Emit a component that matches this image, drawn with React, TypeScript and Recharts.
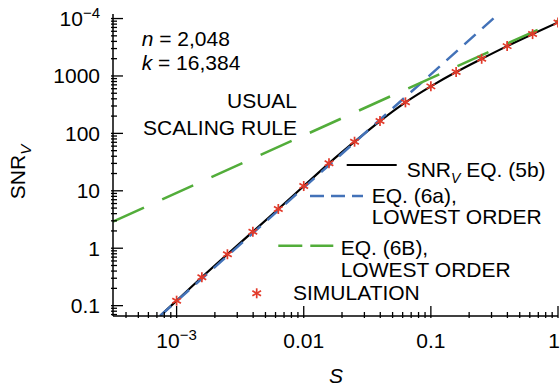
import React from 'react'
import { ComposedChart, Legend, Line, Scatter, XAxis, YAxis } from 'recharts'

const FONT = '"Liberation Sans", Arial, Helvetica, sans-serif'
const W = 560
const H = 388
const FS = 21
const RED = '#e23a2a'
const BLUE = '#4372b8'
const GREEN = '#52ad3a'

// simulation runs, 5 per decade of S
const simS = [0.001, 0.00158, 0.00251, 0.00398, 0.00631, 0.01, 0.0158, 0.0251, 0.0398, 0.0631, 0.1, 0.158, 0.251, 0.398, 0.631, 1]
const simSNR = [0.122, 0.312, 0.785, 1.94, 4.82, 12.1, 30.1, 71.6, 164, 347, 659, 1170, 1990, 3310, 5360, 8570]

// SNR_V eq. (5b)
const eq5bS = [0.00075, 0.001, 0.00158, 0.00251, 0.00398, 0.00631, 0.01, 0.0158, 0.0251, 0.0398, 0.0631, 0.1, 0.158, 0.251, 0.398, 0.631, 1]
const eq5bSNR = [0.068, 0.122, 0.312, 0.785, 1.94, 4.82, 12.1, 30.1, 71.6, 164, 347, 659, 1170, 1990, 3310, 5360, 8570]

// eq. (6a), lowest order
const eq6aS = [0.00074, 0.34]
const eq6aSNR = [0.066, 12000]

// eq. (6b), lowest order (usual scaling rule)
const eq6bS = [0.000316, 1]
const eq6bSNR = [2.9, 9200]

const xDomain = [0.000316, 1]
const yDomain = [0.066, 12000]

const xMajor = [0.001, 0.01, 0.1, 1]
const xLabelBase = ['10', '0.01', '0.1', '1']
const xLabelSup = ['\u22123', '', '', '']

const yMajor = [0.1, 1, 10, 100, 1000, 10000]
const yLabelBase = ['0.1', '1', '10', '100', '1000', '10']
const yLabelSup = ['', '', '', '', '', '\u22124']

const toPts = (s: number[], v: number[]) => s.map((x, i) => ({ s: x, v: v[i] }))

const minorTicks = (lo: number, hi: number) => {
	const out: number[] = []
	for (let e = Math.floor(Math.log10(lo)); e <= Math.ceil(Math.log10(hi)); e++) {
		for (let m = 2; m <= 9; m++) {
			const v = m * Math.pow(10, e)
			if (v >= lo && v <= hi) out.push(v)
		}
	}
	return out
}

const xTicks = [...xMajor, ...minorTicks(xDomain[0], xDomain[1])].sort((a, b) => a - b)
const yTicks = [...yMajor, ...minorTicks(yDomain[0], yDomain[1])].sort((a, b) => a - b)

const MAJOR = 12
const MINOR = 6

const majorIndex = (list: number[], v: number) =>
	list.findIndex((m) => Math.abs(Math.log10(m) - Math.log10(v)) < 1e-6)

const BottomTick = (props: any) => {
	const { x, y, payload } = props
	const i = majorIndex(xMajor, payload.value)
	const len = i >= 0 ? MAJOR : MINOR
	const last = i === xMajor.length - 1
	return (
		<g>
			<line x1={x} y1={y} x2={x} y2={y - len} stroke='#000' strokeWidth={1.3} />
			{i >= 0 && (
				<text
					x={last ? W : x}
					y={y + 30}
					textAnchor={last ? 'end' : 'middle'}
					fontSize={FS}
					fontFamily={FONT}
					fill='#000'
				>
					{xLabelBase[i]}
					{xLabelSup[i] && (
						<tspan dy={-8} fontSize={15}>
							{xLabelSup[i]}
						</tspan>
					)}
				</text>
			)}
		</g>
	)
}

const TopTick = (props: any) => {
	const { x, y, payload } = props
	const len = majorIndex(xMajor, payload.value) >= 0 ? MAJOR : MINOR
	return <line x1={x} y1={y} x2={x} y2={y + len} stroke='#000' strokeWidth={1.3} />
}

const LeftTick = (props: any) => {
	const { x, y, payload } = props
	const i = majorIndex(yMajor, payload.value)
	const len = i >= 0 ? MAJOR : MINOR
	return (
		<g>
			<line x1={x} y1={y} x2={x + len} y2={y} stroke='#000' strokeWidth={1.3} />
			{i >= 0 && (
				<text x={x - 11} y={y + 7.5} textAnchor='end' fontSize={FS} fontFamily={FONT} fill='#000'>
					{yLabelBase[i]}
					{yLabelSup[i] && (
						<tspan dy={-8} fontSize={15}>
							{yLabelSup[i]}
						</tspan>
					)}
				</text>
			)}
		</g>
	)
}

const RightTick = (props: any) => {
	const { x, y, payload } = props
	const len = majorIndex(yMajor, payload.value) >= 0 ? MAJOR : MINOR
	return <line x1={x} y1={y} x2={x - len} y2={y} stroke='#000' strokeWidth={1.3} />
}

const Asterisk = (props: any) => {
	const { cx, cy } = props
	const r = 5
	const a = r * 0.866
	const b = r * 0.5
	return (
		<g stroke={RED} strokeWidth={1.7}>
			<line x1={cx} y1={cy - r} x2={cx} y2={cy + r} />
			<line x1={cx - a} y1={cy - b} x2={cx + a} y2={cy + b} />
			<line x1={cx - a} y1={cy + b} x2={cx + a} y2={cy - b} />
		</g>
	)
}

const YTitle = () => (
	<text transform='translate(25,172) rotate(-90)' textAnchor='middle' fontSize={FS} fontFamily={FONT} fill='#000'>
		SNR
		<tspan dy={6} fontSize={15} fontStyle='italic'>
			V
		</tspan>
	</text>
)

const XTitle = () => (
	<text x={336} y={383} textAnchor='middle' fontSize={FS} fontStyle='italic' fontFamily={FONT} fill='#000'>
		S
	</text>
)

const txt = { fontSize: FS, fontFamily: FONT, fill: '#000' }

const LegendBox = () => (
	<svg width={W} height={H} style={{ position: 'absolute', left: 0, top: 0, display: 'block' }}>
		<line x1={346.7} y1={165} x2={396.7} y2={165} stroke='#000' strokeWidth={2.2} />
		<text x={406.7} y={177} {...txt}>
			SNR
			<tspan dy={6} fontSize={14} fontStyle='italic'>
				V
			</tspan>
			<tspan dy={-6}>{' EQ. (5b)'}</tspan>
		</text>

		<line x1={310} y1={196} x2={363} y2={196} stroke={BLUE} strokeWidth={2.5} strokeDasharray='14 7' />
		<text x={371.7} y={202.5} {...txt}>EQ. (6a),</text>
		<text x={371.7} y={224.2} {...txt}>LOWEST ORDER</text>

		<line x1={278.3} y1={245.7} x2={333.3} y2={245.7} stroke={GREEN} strokeWidth={2.5} strokeDasharray='24 8' />
		<text x={340.7} y={255} {...txt}>EQ. (6B),</text>
		<text x={340.7} y={276.5} {...txt}>LOWEST ORDER</text>

		<Asterisk cx={256.7} cy={293.3} />
		<text x={293} y={300} {...txt}>SIMULATION</text>
	</svg>
)

const Notes = () => (
	<svg
		width={W}
		height={H}
		style={{ position: 'absolute', left: 0, top: 0, display: 'block', pointerEvents: 'none' }}
	>
		<text x={141.7} y={45.5} {...txt}>
			<tspan fontStyle='italic'>n</tspan> = 2,048
		</text>
		<text x={141.7} y={69.5} {...txt}>
			<tspan fontStyle='italic'>k</tspan> = 16,384
		</text>
		<text x={297} y={107.5} textAnchor='end' {...txt}>USUAL</text>
		<text x={297} y={134.5} textAnchor='end' {...txt}>SCALING RULE</text>
	</svg>
)

export default function App() {
	const axisLine = { stroke: '#000', strokeWidth: 1.5 }
	return (
		<div style={{ position: 'relative', width: W, height: H, overflow: 'hidden' }}>
			{/* drop the default body margin so the chart fills the whole 560x388 page */}
			<style>{'html,body{margin:0;padding:0;overflow:hidden}'}</style>
			<ComposedChart width={W} height={H} margin={{ top: 14, right: 2, bottom: 0, left: 0 }}>
				<XAxis
					dataKey='s'
					type='number'
					scale='log'
					domain={xDomain}
					allowDataOverflow
					ticks={xTicks}
					interval={0}
					tickSize={0}
					tickLine={false}
					axisLine={axisLine}
					height={72}
					tick={BottomTick}
					label={<XTitle />}
				/>
				<XAxis
					xAxisId='top'
					orientation='top'
					type='number'
					scale='log'
					domain={xDomain}
					allowDataOverflow
					ticks={xTicks}
					interval={0}
					tickSize={0}
					tickLine={false}
					axisLine={axisLine}
					height={0}
					tick={TopTick}
				/>
				<YAxis
					dataKey='v'
					type='number'
					scale='log'
					domain={yDomain}
					allowDataOverflow
					ticks={yTicks}
					interval={0}
					tickSize={0}
					tickLine={false}
					axisLine={axisLine}
					width={113}
					tick={LeftTick}
					label={<YTitle />}
				/>
				<YAxis
					yAxisId='right'
					orientation='right'
					type='number'
					scale='log'
					domain={yDomain}
					allowDataOverflow
					ticks={yTicks}
					interval={0}
					tickSize={0}
					tickLine={false}
					axisLine={axisLine}
					width={0}
					tick={RightTick}
				/>
				<Line
					data={toPts(eq5bS, eq5bSNR)}
					dataKey='v'
					type='monotone'
					stroke='#000'
					strokeWidth={2.2}
					dot={false}
					isAnimationActive={false}
				/>
				<Line
					data={toPts(eq6aS, eq6aSNR)}
					dataKey='v'
					type='linear'
					stroke={BLUE}
					strokeWidth={2.5}
					strokeDasharray='15 9'
					dot={false}
					isAnimationActive={false}
				/>
				<Line
					data={toPts(eq6bS, eq6bSNR)}
					dataKey='v'
					type='linear'
					stroke={GREEN}
					strokeWidth={2.5}
					strokeDasharray='34 20'
					dot={false}
					isAnimationActive={false}
				/>
				<Scatter
					data={toPts(simS, simSNR)}
					dataKey='v'
					shape={<Asterisk />}
					isAnimationActive={false}
				/>
				<Legend
					layout='vertical'
					align='center'
					verticalAlign='middle'
					wrapperStyle={{ left: 0, top: 0, width: W, height: H }}
					content={() => <LegendBox />}
				/>
			</ComposedChart>
			<Notes />
		</div>
	)
}
